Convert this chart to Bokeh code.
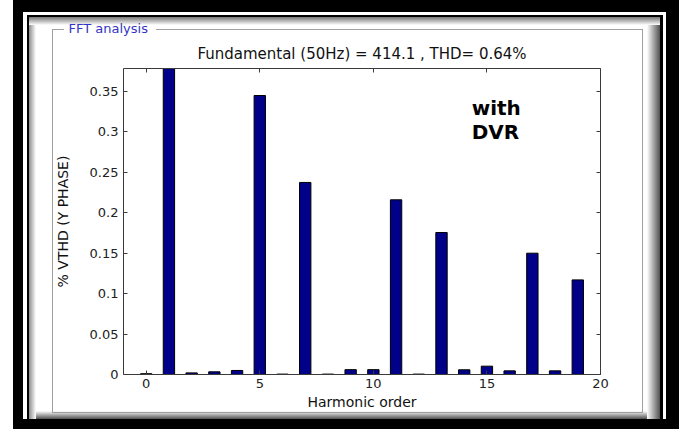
from bokeh.plotting import figure
from bokeh.models import (ColumnDataSource, Range1d, LinearAxis, FixedTicker,
                          CustomJSTickFormatter, Label, Title)
from bokeh.embed import file_html
from bokeh.resources import INLINE

# Harmonic spectrum of the Y-phase voltage (% of fundamental)
harmonic_order = list(range(20))
vthd_percent = [0.001, 100.0, 0.002, 0.0033, 0.005, 0.345, 0.0005, 0.2375, 0.0005, 0.006,
                0.006, 0.216, 0.0005, 0.1756, 0.0058, 0.0103, 0.0045, 0.150, 0.0045, 0.117]
x_ticks = [0, 5, 10, 15, 20]
y_ticks = [0, 0.05, 0.1, 0.15, 0.2, 0.25, 0.3, 0.35]

title_text = "Fundamental (50Hz) = 414.1 , THD= 0.64%"
panel_text = "FFT analysis"
note_lines = ["with", "DVR"]
x_label = "Harmonic order"
y_label = "% VTHD (Y PHASE)"

W, H = 679, 429
FONT = "DejaVu Sans"
AXIS_COLOR = "#3a3a3a"

src = ColumnDataSource(data=dict(h=harmonic_order, v=vthd_percent))

p = figure(width=W, height=H, output_backend="svg", toolbar_location=None,
           x_range=Range1d(-1, 20), y_range=Range1d(0, 0.3784),
           min_border_left=123, min_border_right=79,
           min_border_top=68, min_border_bottom=55)
p.background_fill_color = "white"
p.border_fill_color = None
p.outline_line_color = None
p.grid.visible = False

p.vbar(x="h", top="v", bottom=0, width=0.5, source=src,
       fill_color="#000088", line_color="#000000", line_width=1)

num_fmt = CustomJSTickFormatter(code="return String(Math.round(tick * 100) / 100);")
blank_fmt = CustomJSTickFormatter(code="return '';")


def style_axis(ax, ticks):
    ax.ticker = FixedTicker(ticks=ticks)
    ax.minor_tick_line_color = None
    ax.major_tick_in = 4
    ax.major_tick_out = 0
    ax.axis_line_color = AXIS_COLOR
    ax.major_tick_line_color = AXIS_COLOR
    ax.major_label_text_font = FONT
    ax.major_label_text_font_size = "13px"
    ax.major_label_text_color = "#222222"
    ax.axis_label_text_font = FONT
    ax.axis_label_text_font_size = "14px"
    ax.axis_label_text_font_style = "normal"
    ax.axis_label_text_color = "#111111"


xa = p.xaxis[0]
style_axis(xa, x_ticks)
xa.major_label_standoff = 4
xa.axis_label = x_label
xa.axis_label_standoff = 3

ya = p.yaxis[0]
style_axis(ya, y_ticks)
ya.formatter = num_fmt
ya.major_label_standoff = 5
ya.axis_label = y_label
ya.axis_label_standoff = 16

# box axes on top and right: inward ticks only
top_ax = LinearAxis(formatter=blank_fmt, major_label_standoff=0)
style_axis(top_ax, x_ticks)
p.add_layout(top_ax, "above")

right_ax = LinearAxis(formatter=blank_fmt, major_label_standoff=0)
style_axis(right_ax, y_ticks)
p.add_layout(right_ax, "right")

# group-box caption (outermost) and chart title (next to the axes)
p.title = Title(text=panel_text, align="left", offset=-55, text_font=FONT,
                text_font_size="13px", text_font_style="normal",
                text_color="#3434c4", standoff=4)
p.add_layout(Title(text=title_text, align="center", text_font=FONT,
                   text_font_size="15px", text_font_style="normal",
                   text_color="#111111", standoff=11), "above")

# in-plot note
p.add_layout(Label(x=14.33, y=0.3291, text=note_lines[0], text_font=FONT,
                   text_font_size="20px", text_font_style="bold",
                   text_color="#000000", text_baseline="alphabetic", text_align="left"))
p.add_layout(Label(x=14.33, y=0.3002, text=note_lines[1], text_font=FONT,
                   text_font_size="20px", text_font_style="bold",
                   text_color="#000000", text_baseline="alphabetic", text_align="left"))

# ---- window frame and group box painted as CSS background layers ----
layers = []


def rect(l, t, w, h, image):
    layers.append(f"{image} {l}px {t}px / {w}px {h}px no-repeat")


def solid(c):
    return f"linear-gradient({c}, {c})"


GROUP = "#a0a0a0"
# group box (top line broken for the caption)
rect(52, 29, 12, 1, solid(GROUP))
rect(156, 29, 487, 1, solid(GROUP))
rect(52, 29, 1, 384, solid(GROUP))
rect(642, 29, 1, 384, solid(GROUP))
rect(52, 412, 591, 1, solid(GROUP))
# bevel shading
rect(29, 17, 631, 8, "linear-gradient(to bottom, #747474, #ffffff)")
rect(29, 17, 7, 402, "linear-gradient(to right, #8c8c8c, #ffffff)")
rect(647, 17, 13, 402, "linear-gradient(to right, #ffffff, #505050)")
rect(29, 411, 631, 8, "linear-gradient(to bottom, #ffffff, #505050)")
# thin inner black line
rect(27, 15, 636, 2, solid("#000"))
rect(27, 15, 2, 404, solid("#000"))
rect(660, 15, 3, 404, solid("#000"))
# heavy outer black band
rect(13, 0, 666, 12, solid("#000"))
rect(13, 0, 10, 429, solid("#000"))
rect(666, 0, 13, 429, solid("#000"))
rect(13, 419, 666, 10, solid("#000"))

p.styles = {"background": ", ".join(layers) + ", #ffffff"}

open("out.html", "w").write(file_html(p, INLINE))
